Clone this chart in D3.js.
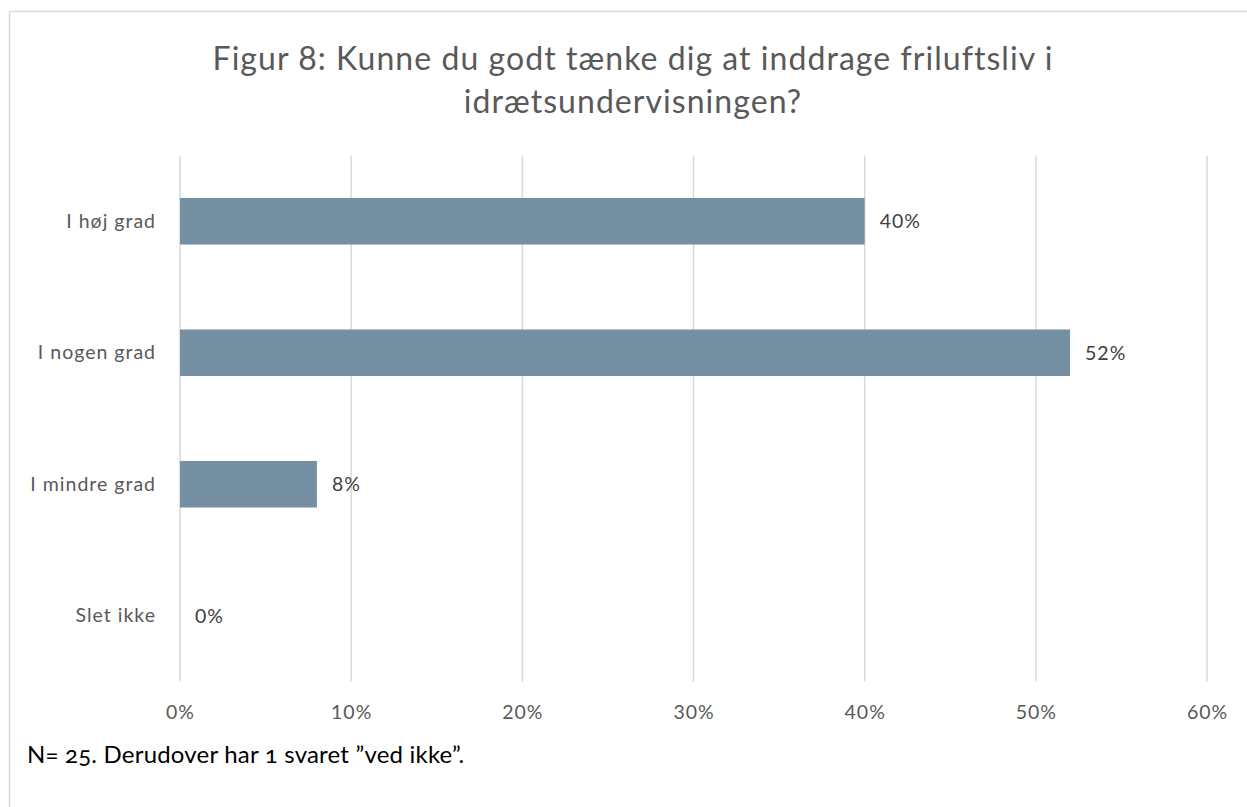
<!doctype html>
<html>
<head>
<meta charset="utf-8">
<title>Figur 8</title>
<script src="https://cdn.jsdelivr.net/npm/d3@7"></script>
<style>
  body { margin: 0; background: #fff; }
  svg text { font-family: Lato, "Open Sans", sans-serif; }
</style>
</head>
<body>
<div id="chart"></div>
<script>
// data
const categories = ["I høj grad", "I nogen grad", "I mindre grad", "Slet ikke"];
const values = [40, 52, 8, 0];
const xTicks = [0, 10, 20, 30, 40, 50, 60];
const titleLines = ["Figur 8: Kunne du godt tænke dig at inddrage friluftsliv i", "idrætsundervisningen?"];
const footnote = "N= 25. Derudover har 1 svaret ”ved ikke”.";

const W = 1247, H = 807;
const margin = {top: 155.5, right: 40, bottom: 125.5, left: 180};
const width = W - margin.left - margin.right;   // 0..60% spans 180..1207
const height = H - margin.top - margin.bottom;

const labelFont = "19.5px";
const labelSpacing = "1px";

const svg = d3.select("#chart").append("svg")
  .attr("width", W).attr("height", H);

// outer frame
svg.append("rect")
  .attr("x", 9.5).attr("y", 11.5)
  .attr("width", W).attr("height", H)
  .attr("fill", "none").attr("stroke", "#d9d9d9").attr("stroke-width", 1.5);

// title
svg.append("text")
  .attr("x", 633).attr("y", 70)
  .attr("text-anchor", "middle")
  .attr("fill", "#595959")
  .style("font-size", "32px")
  .style("letter-spacing", "1.05px")
  .selectAll("tspan").data(titleLines).join("tspan")
    .attr("x", 633)
    .attr("dy", (d, i) => i === 0 ? 0 : 43)
    .text(d => d);

const g = svg.append("g").attr("transform", `translate(${margin.left},${margin.top})`);

const x = d3.scaleLinear().domain([0, 60]).range([0, width]);
const y = d3.scaleBand().domain(categories).range([0, height])
  .paddingInner(0.646).paddingOuter(0.323);

// gridlines
g.append("g")
  .selectAll("line").data(xTicks).join("line")
    .attr("x1", d => x(d)).attr("x2", d => x(d))
    .attr("y1", 0).attr("y2", height)
    .attr("stroke", "#d9d9d9").attr("stroke-width", 1.5);

// x axis labels
const xAxis = g.append("g")
  .attr("transform", `translate(0,${height})`)
  .call(d3.axisBottom(x).tickValues(xTicks).tickSize(0).tickPadding(24).tickFormat(d => d + "%"));
xAxis.select(".domain").remove();
xAxis.selectAll("text")
  .attr("fill", "#595959")
  .style("font-size", labelFont)
  .style("letter-spacing", labelSpacing)
  .style("font-family", "Lato, sans-serif");

// y axis labels
const yAxis = g.append("g")
  .call(d3.axisLeft(y).tickSize(0).tickPadding(24));
yAxis.select(".domain").remove();
yAxis.selectAll("text")
  .attr("fill", "#595959")
  .style("font-size", labelFont)
  .style("letter-spacing", labelSpacing)
  .style("font-family", "Lato, sans-serif");

// bars
g.selectAll("rect.bar").data(values).join("rect")
  .attr("class", "bar")
  .attr("x", x(0))
  .attr("y", (d, i) => y(categories[i]))
  .attr("width", d => x(d) - x(0))
  .attr("height", y.bandwidth())
  .attr("fill", "#7490a2");

// value labels
g.selectAll("text.val").data(values).join("text")
  .attr("class", "val")
  .attr("x", d => x(d) + 15)
  .attr("y", (d, i) => y(categories[i]) + y.bandwidth() / 2)
  .attr("dy", "0.35em")
  .attr("fill", "#404040")
  .style("font-size", labelFont)
  .style("letter-spacing", labelSpacing)
  .text(d => d + "%");

// footnote
svg.append("text")
  .attr("x", 27).attr("y", 763)
  .attr("fill", "#000")
  .style("font-size", "24px")
  .style("letter-spacing", "0.2px")
  .style("font-variant-numeric", "oldstyle-nums")
  .text(footnote);
</script>
</body>
</html>
